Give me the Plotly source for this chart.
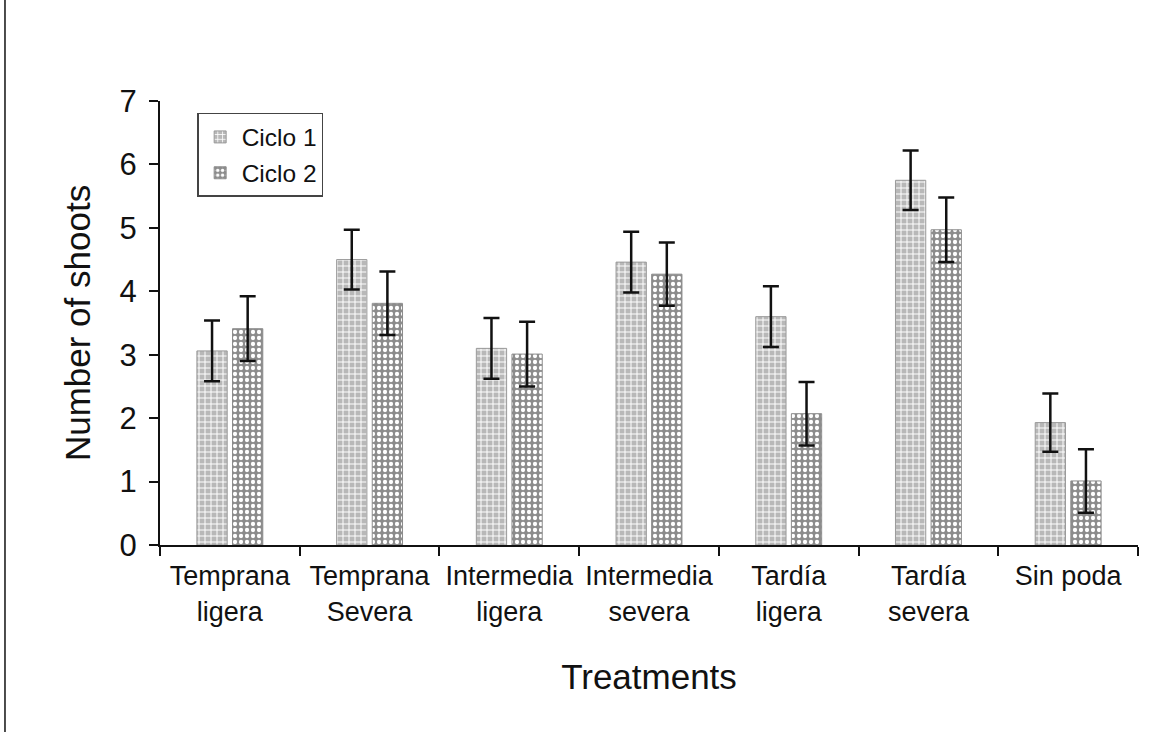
import plotly.graph_objects as go

categories = ["Temprana<br>ligera", "Temprana<br>Severa", "Intermedia<br>ligera",
              "Intermedia<br>severa", "Tardía<br>ligera", "Tardía<br>severa", "Sin poda"]
ciclo1 = [3.06, 4.50, 3.10, 4.46, 3.60, 5.75, 1.93]
ciclo1_err = [0.48, 0.47, 0.48, 0.48, 0.48, 0.47, 0.46]
ciclo2 = [3.41, 3.81, 3.01, 4.27, 2.07, 4.97, 1.01]
ciclo2_err = [0.51, 0.50, 0.51, 0.50, 0.50, 0.51, 0.50]
y_ticks = [0, 1, 2, 3, 4, 5, 6, 7]

FONT = "Liberation Sans, Arial, sans-serif"

fig = go.Figure()
fig.add_trace(go.Bar(
    name="Ciclo 1", x=categories, y=ciclo1, legendgroup="a",
    marker=dict(color="#b8b8b8", line=dict(color="#9a9a9a", width=1),
                pattern=dict(shape="+", fillmode="replace", bgcolor="#b8b8b8",
                             fgcolor="#ffffff", size=6, solidity=0.3)),
    error_y=dict(type="data", array=ciclo1_err, visible=True, color="#111111",
                 thickness=2.5, width=8),
))
fig.add_trace(go.Bar(
    name="Ciclo 2", x=categories, y=ciclo2, legendgroup="b",
    marker=dict(color="#8c8c8c", line=dict(color="#8c8c8c", width=1),
                pattern=dict(shape=".", fillmode="replace", bgcolor="#8c8c8c",
                             fgcolor="#ffffff", size=6, solidity=0.4)),
    error_y=dict(type="data", array=ciclo2_err, visible=True, color="#111111",
                 thickness=2.5, width=8),
))

fig.update_layout(
    width=1169, height=732,
    paper_bgcolor="white", plot_bgcolor="white",
    margin=dict(l=160, r=31, t=101, b=187),
    barmode="group", bargap=0.49, bargroupgap=0.15,
    font=dict(family=FONT, color="#111111"),
    showlegend=True,
    legend=dict(x=0.038, y=0.973, xanchor="left", yanchor="top",
                bordercolor="#444444", borderwidth=1.5, bgcolor="white",
                font=dict(size=24.5, family=FONT), tracegroupgap=1,
                itemwidth=33),
    xaxis=dict(
        type="category", showline=True, linecolor="#111111", linewidth=2,
        ticks="outside", tickson="boundaries", ticklen=9, tickwidth=2,
        tickcolor="#111111", tickfont=dict(size=27, family=FONT),
        tickangle=0, automargin=False, ticklabelstandoff=6,
        title=dict(text="Treatments", font=dict(size=35, family=FONT), standoff=39),
        showgrid=False, zeroline=False,
    ),
    yaxis=dict(
        range=[0, 7], tickvals=y_ticks, showline=True, linecolor="#111111",
        linewidth=2, ticks="outside", ticklen=9, tickwidth=2, tickcolor="#111111",
        tickfont=dict(size=31, family=FONT), showgrid=False, zeroline=False,
        ticklabelstandoff=6, automargin=False,
        title=dict(text="Number of shoots", font=dict(size=35, family=FONT), standoff=18),
    ),
    shapes=[dict(type="line", xref="paper", yref="paper",
                 x0=-0.1585, x1=-0.1585, y0=-0.43, y1=1.24,
                 line=dict(color="#111111", width=1.5))],
)

fig.write_html("out.html", config={"displayModeBar": False},
               post_script="document.body.style.margin='0';")
